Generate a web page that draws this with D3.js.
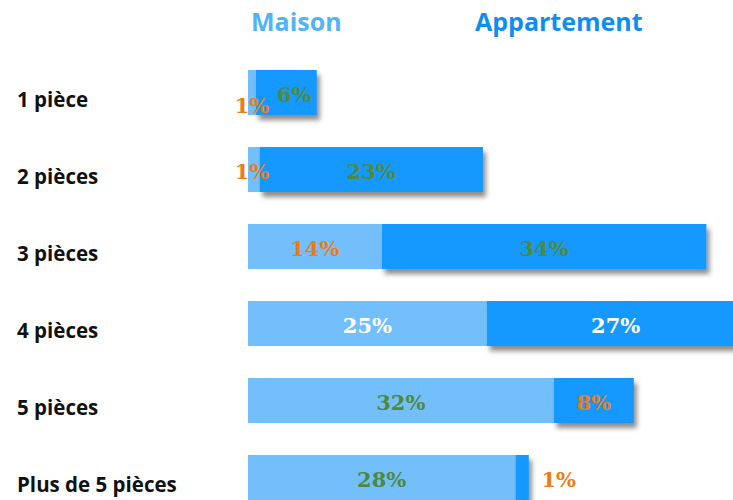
<!DOCTYPE html>
<html>
  <head>
    <meta charset="UTF-8">
    <title>Maison / Appartement par nombre de pièces</title>
    <style>
      body { margin: 0; background: #fff; }
      svg { display: block; }
    </style>
  </head>
  <body>
    <svg></svg>

    <script src="https://d3js.org/d3.v7.min.js"></script>
    <script>

/* DATA (labels are rounded) */
var categories = ["1 pièce", "2 pièces", "3 pièces", "4 pièces", "5 pièces", "Plus de 5 pièces"];
var maison = [0.8, 1.2, 14, 25, 32, 28];
var appartement = [6.4, 23.4, 34, 27, 8.4, 1.4];
var seriesNames = ["Maison", "Appartement"];

var config = {
  "width": 733,
  "height": 500,
  "barLeft": 248,
  "pxPerPct": 9.55,
  "colors": {
    "Maison": "#73bffc",
    "Appartement": "#1499fe"
  },
  "legendColors": {
    "Maison": "#52b3f7",
    "Appartement": "#0f8ef0"
  }
};

// smaller share of a row in orange, larger in green, near-equal shares in white
function labelColor(v, other) {
  if (Math.abs(v - other) < 5) return "#ffffff";
  return v < other ? "#ec7d16" : "#4f8a3c";
}

var svg = d3.select("svg")
  .attr("width", config.width)
  .attr("height", config.height);

// drop shadow for the appartement segments
var defs = svg.append("defs");
var filter = defs.append("filter")
  .attr("id", "shadow")
  .attr("x", "-10%").attr("y", "-20%")
  .attr("width", "130%").attr("height", "160%");
filter.append("feDropShadow")
  .attr("dx", 3).attr("dy", 5)
  .attr("stdDeviation", 2.5)
  .attr("flood-color", "#000")
  .attr("flood-opacity", 0.45);

var x = d3.scaleLinear()
  .domain([0, 100])
  .range([config.barLeft, config.barLeft + 100 * config.pxPerPct]);

var y = d3.scaleBand()
  .domain(categories)
  .range([70, 500])
  .paddingInner(32 / 77)
  .paddingOuter(0);

var rows = categories.map(function(c, i) {
  return { "cat": c, "Maison": maison[i], "Appartement": appartement[i] };
});

var stack = d3.stack().keys(seriesNames)(rows);

var layer = svg.selectAll(".layer")
  .data(stack)
  .enter().append("g")
    .attr("class", "layer")
    .attr("fill", function(d) { return config.colors[d.key]; })
    .attr("filter", function(d) { return d.key == "Appartement" ? "url(#shadow)" : null; });

layer.selectAll("rect")
  .data(function(d) { return d; })
  .enter().append("rect")
    .attr("x", function(d) { return x(d[0]); })
    .attr("y", function(d) { return y(d.data.cat); })
    .attr("width", function(d) { return x(d[1]) - x(d[0]); })
    .attr("height", y.bandwidth());

// value labels
var labels = svg.append("g")
  .attr("font-family", "'DejaVu Serif', 'Liberation Serif', serif")
  .attr("font-weight", "bold")
  .attr("font-size", 21)
  .attr("text-anchor", "middle");

stack.forEach(function(s, si) {
  s.forEach(function(d, i) {
    var raw = d[1] - d[0];
    var other = si == 0 ? appartement[i] : maison[i];
    var v = Math.round(raw);
    var w = x(d[1]) - x(d[0]);
    var cx = (x(d[0]) + x(d[1])) / 2;
    var cy = y(d.data.cat) + y.bandwidth() / 2 + 2;
    var tight = (x(stack[1][i][1]) - x(0)) < 90; // whole bar is short
    if (s.key == "Maison" && w < 20) {
      cx = x(d[0]) + 4;
      if (tight) cy += 11;
    }
    if (s.key == "Appartement") {
      if (w < 20) cx = x(d[1]) + 30;
      else if (tight) cx += 8;
    }
    labels.append("text")
      .attr("x", cx)
      .attr("y", cy)
      .attr("dy", "0.35em")
      .attr("fill", labelColor(raw, other))
      .text(v + "%");
  });
});

// category labels
svg.append("g")
  .attr("font-family", "'Open Sans', 'DejaVu Sans', sans-serif")
  .attr("font-weight", "bold")
  .attr("font-size", 20.5)
  .attr("fill", "#111")
  .selectAll("text")
  .data(categories)
  .enter().append("text")
    .attr("x", 17)
    .attr("y", function(d) { return y(d) + y.bandwidth() / 2 + 14; })
    .text(function(d) { return d; });

// legend on top
var legendX = { "Maison": 251, "Appartement": 475 };
svg.append("g")
  .attr("font-family", "'Open Sans', 'DejaVu Sans', sans-serif")
  .attr("font-weight", "bold")
  .attr("font-size", 25)
  .selectAll("text")
  .data(seriesNames)
  .enter().append("text")
    .attr("x", function(d) { return legendX[d]; })
    .attr("y", 31)
    .attr("fill", function(d) { return config.legendColors[d]; })
    .text(function(d) { return d; });

    </script>
  </body>
</html>
